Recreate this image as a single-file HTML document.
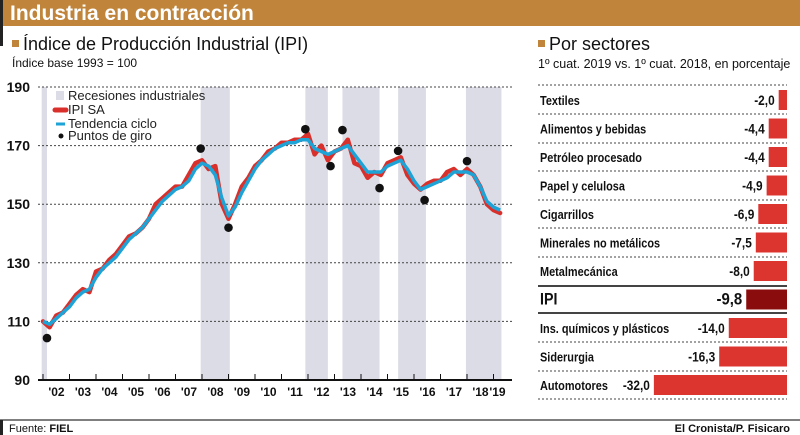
<!DOCTYPE html>
<html><head><meta charset="utf-8">
<style>
html,body{margin:0;padding:0;background:#fff;width:800px;height:435px;overflow:hidden}
svg{display:block}
text{font-family:"Liberation Sans Narrow","Liberation Sans",sans-serif}
</style></head>
<body>
<svg id="chart" width="800" height="435" viewBox="0 0 800 435" xmlns="http://www.w3.org/2000/svg">
  <rect x="0" y="0" width="800" height="26" fill="#c0853a"/>
  <rect x="0" y="0" width="3" height="46" fill="#222"/>
  <text x="10" y="20" font-size="21" font-weight="bold" fill="#fff">Industria en contracción</text>
  <rect x="12" y="40" width="7" height="7" fill="#c0853a"/>
  <text x="23" y="50" font-size="18" fill="#111">Índice de Producción Industrial (IPI)</text>
  <text x="12" y="67" font-size="12" fill="#111">Índice base 1993 = 100</text>
  <rect x="538" y="40" width="7" height="7" fill="#c0853a"/>
  <text x="549" y="50" font-size="18" fill="#111">Por sectores</text>
  <text x="538" y="68" font-size="12.5" fill="#111">1º cuat. 2019 vs. 1º cuat. 2018, en porcentaje</text>
  <g id="lineChart"></g>
  <g id="barChart"></g>
  <line x1="0" y1="420" x2="800" y2="420" stroke="#555" stroke-width="1.5"/>
  <rect x="0" y="420" width="3" height="15" fill="#222"/>
  <text x="9" y="432" font-size="11" fill="#111">Fuente: <tspan font-weight="bold">FIEL</tspan></text>
  <text x="790" y="432" font-size="11" font-weight="bold" fill="#111" text-anchor="end">El Cronista/P. Fisicaro</text>
</svg>
<script>
const yTicks=[90,110,130,150,170,190];
const yearLabels=["'02","'03","'04","'05","'06","'07","'08","'09","'10","'11","'12","'13","'14","'15","'16","'17","'18","'19"];
const recessionStarts=[2001.95,2007.95,2011.9,2013.3,2015.4,2017.96];
const recessionEnds=[2002.15,2009.05,2012.75,2014.7,2016.45,2019.3];
const times=[2002.0,2002.25,2002.5,2002.75,2003.0,2003.25,2003.5,2003.75,2004.0,2004.25,2004.5,2004.75,2005.0,2005.25,2005.5,2005.75,2006.0,2006.25,2006.5,2006.75,2007.0,2007.25,2007.5,2007.75,2008.0,2008.25,2008.5,2008.75,2009.0,2009.25,2009.5,2009.75,2010.0,2010.25,2010.5,2010.75,2011.0,2011.25,2011.5,2011.75,2012.0,2012.25,2012.5,2012.75,2013.0,2013.25,2013.5,2013.75,2014.0,2014.25,2014.5,2014.75,2015.0,2015.25,2015.5,2015.75,2016.0,2016.25,2016.5,2016.75,2017.0,2017.25,2017.5,2017.75,2018.0,2018.25,2018.5,2018.75,2019.0,2019.25];
const ipiSA=[110,108,112,113,116,119,121,120,127,128,131,133,136,139,140,142,145,150,152,154,156,156,160,164,165,162,163,150,145,150,156,159,163,165,168,169,171,171,172,172,174,167,170,165,168,169,172,164,163,159,161,160,164,165,166,160,157,155,157,158,158,161,162,160,162,160,156,150,148,147];
const trend=[110,109,111,113,115,118,120,121,125,128,130,132,135,138,140,142,145,148,151,153,155,156,158,162,164,163,160,152,146,149,154,158,162,165,167,169,170,171,171,172,172,169,168,167,168,169,170,167,164,161,161,161,163,164,165,162,158,155,156,157,158,159,161,161,161,160,156,151,149,148];
const turnT=[2002.15,2007.95,2009.0,2011.9,2012.85,2013.3,2014.7,2015.4,2016.4,2018.0];
const turnV=[104.3,169,142,175.6,163,175.3,155.5,168.2,151.4,164.7];
const sectors=["Textiles","Alimentos y bebidas","Petróleo procesado","Papel y celulosa","Cigarrillos","Minerales no metálicos","Metalmecánica","IPI","Ins. químicos y plásticos","Siderurgia","Automotores"];
const sectorValues=[-2.0,-4.4,-4.4,-4.9,-6.9,-7.5,-8.0,-9.8,-14.0,-16.3,-32.0];

const NS="http://www.w3.org/2000/svg";
function mk(tag,attrs,parent,txt){const e=document.createElementNS(NS,tag);for(const k in attrs)e.setAttribute(k,attrs[k]);if(txt!==undefined)e.textContent=txt;parent.appendChild(e);return e;}
const X=t=>43+(t-2002)*26.5;
const Y=v=>380-(v-90)*2.93;
const lc=document.getElementById('lineChart');
recessionStarts.forEach((s,i)=>{
  const r=mk('rect',{x:X(s),y:Y(190),width:X(recessionEnds[i])-X(s),height:Y(90)-Y(190),fill:'#dcdce6'},lc);
  
  
});
yTicks.forEach(v=>{
  if(v>90){const g=mk('line',{x1:38,x2:512,y1:Y(v),y2:Y(v),stroke:'#444','stroke-width':1,'stroke-dasharray':'2,2'},lc);
  
  }
  const t=mk('text',{x:30,y:Y(v)+5,'font-size':14,'font-weight':'bold','text-anchor':'end',fill:'#111'},lc,v);
  
  
});
const ax=mk('line',{x1:38,x2:512,y1:380,y2:380,stroke:'#111','stroke-width':2},lc);


yearLabels.forEach((l,i)=>{
  const tk=mk('line',{x1:X(2002+i),x2:X(2002+i),y1:374,y2:380,stroke:'#111','stroke-width':1},lc);
  
  
  const lx=i===17?X(2019)+4:X(2002+i)+13.5;
  const t=mk('text',{x:lx,y:396,'font-size':12,'font-weight':'bold','text-anchor':'middle',fill:'#111'},lc,l);
  
  
});
const pts=a=>a.map((v,i)=>X(times[i]).toFixed(1)+','+Y(v).toFixed(1)).join(' ');
const red=mk('polyline',{points:pts(ipiSA),fill:'none',stroke:'#d9302c','stroke-width':4.5,'stroke-linejoin':'round','stroke-linecap':'round'},lc);


const blue=mk('polyline',{points:pts(trend),fill:'none',stroke:'#1ea3d6','stroke-width':3.5,'stroke-linejoin':'round'},lc);


turnT.forEach((t,i)=>{
  const c=mk('circle',{cx:X(t),cy:Y(turnV[i]),r:4.3,fill:'#111'},lc);
  
  
});
const lg=mk('g',{},lc);


mk('rect',{x:56,y:91,width:8,height:9,fill:'#dcdce6'},lg);
mk('text',{x:68,y:100,'font-size':13,fill:'#222'},lg,'Recesiones industriales');
mk('line',{x1:55,x2:66,y1:110,y2:110,stroke:'#d9302c','stroke-width':5,'stroke-linecap':'round'},lg);
mk('text',{x:68,y:114,'font-size':13,fill:'#222'},lg,'IPI SA');
mk('line',{x1:56,x2:65,y1:124,y2:124,stroke:'#1ea3d6','stroke-width':3},lg);
mk('text',{x:68,y:128,'font-size':13,fill:'#222'},lg,'Tendencia ciclo');
mk('circle',{cx:61,cy:136,r:2.5,fill:'#111'},lg);
mk('text',{x:68,y:140,'font-size':13,fill:'#222'},lg,'Puntos de giro');
const bc=document.getElementById('barChart');
const rowY=i=>100+i*28.5;
const BX=v=>787+v*4.16;
const sep=[85,114,143,171,200,228,257,285,314,342,371,399];
sep.forEach((y,i)=>{
  const solid=(i===7||i===8);
  const yy=solid?(i===7?286:313):y;
  const l=mk('line',{x1:538,x2:787,y1:yy,y2:yy,stroke:'#444','stroke-width':solid?2:1,'stroke-dasharray':solid?'none':'2,2'},bc);
  
  
});
sectors.forEach((s,i)=>{
  const ipi=s==='IPI';
  const y=rowY(i);
  const t=mk('text',{x:0,y:0,transform:`translate(540,${y+5}) scale(0.84,1)`,'font-size':ipi?17:13,'font-weight':'bold',fill:'#111'},bc,s);
  
  
  const b=mk('rect',{x:BX(sectorValues[i]),y:y-10,width:787-BX(sectorValues[i]),height:20,fill:ipi?'#8b0c0c':'#dc3530'},bc);
  
  
  const v=mk('text',{x:0,y:0,transform:`translate(${BX(sectorValues[i])-4},${y+5}) scale(0.88,1)`,'font-size':ipi?17:13.5,'font-weight':'bold','text-anchor':'end',fill:'#111'},bc,sectorValues[i].toFixed(1).replace('.',','));
  
  
});
</script>
</body></html>
